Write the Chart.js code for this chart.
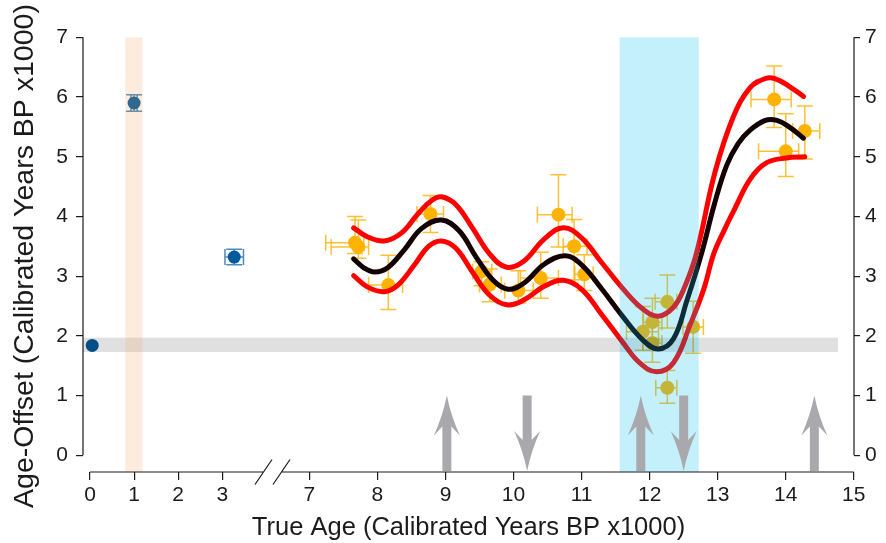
<!DOCTYPE html>
<html>
<head>
<meta charset="utf-8">
<script src="https://cdn.jsdelivr.net/npm/chart.js@4"></script>
<style>
  html, body { margin: 0; padding: 0; background: #fff; }
  #wrap { width: 886px; height: 543px; position: relative; }
</style>
</head>
<body>
<div id="wrap"><canvas id="chart"></canvas></div>
<script>
// ---- axis ticks (thousands of calibrated years BP) ----
const xTickAges = [0, 1, 2, 3, 7, 8, 9, 10, 11, 12, 13, 14, 15];
const yTickValues = [0, 1, 2, 3, 4, 5, 6, 7];
const xTitle = 'True Age (Calibrated Years BP x1000)';
const yTitle = 'Age-Offset (Calibrated Years BP x1000)';

// ---- young samples (blue) ----
const blueAge      = [0.05, 1.0, 3.27];
const blueOffset   = [1.84, 5.90, 3.32];
const blueAgeErr   = [0, 0.07, 0.21];
const blueOffErr   = [0, 0.14, 0.13];

// ---- dated samples (orange), asymmetric errors ----
const sampleAge    = [7.67, 7.72, 8.16, 8.78, 9.53, 9.65, 10.07, 10.40, 10.66, 10.89, 11.04, 11.90, 12.04, 12.04, 12.26, 12.26, 12.64, 13.83, 14.00, 14.28];
const sampleOffset = [3.56, 3.49, 2.85, 4.04, 3.08, 2.86, 2.76, 2.97, 4.03, 3.50, 3.03, 2.07, 2.23, 1.88, 2.57, 1.13, 2.15, 5.96, 5.09, 5.43];
const ageErrLo     = [0.43, 0.40, 0.29, 0.20, 0.13, 0.15, 0.20, 0.30, 0.31, 0.16, 0.14, 0.24, 0.13, 0.14, 0.18, 0.17, 0.15, 0.34, 0.40, 0.18];
const ageErrHi     = [0.13, 0.15, 0.21, 0.19, 0.15, 0.17, 0.22, 0.26, 0.20, 0.19, 0.13, 0.23, 0.14, 0.14, 0.14, 0.14, 0.15, 0.25, 0.19, 0.22];
const offErrLo     = [0.18, 0.19, 0.41, 0.31, 0.24, 0.29, 0.21, 0.34, 0.54, 0.56, 0.27, 0.31, 0.30, 0.32, 0.44, 0.26, 0.44, 0.47, 0.42, 0.47];
const offErrHi     = [0.44, 0.45, 0.50, 0.31, 0.16, 0.26, 0.33, 0.43, 0.67, 0.45, 0.33, 0.42, 0.40, 0.30, 0.45, 0.29, 0.43, 0.56, 0.63, 0.42];

// ---- fitted offset curve and its envelope ----
const medianAge = [7.65, 7.8, 7.96, 8.15, 8.4, 8.65, 8.94, 9.2, 9.45, 9.7, 9.92, 10.15, 10.45, 10.76, 11.0, 11.3, 11.6, 11.9, 12.13, 12.35, 12.55, 12.76, 12.95, 13.13, 13.3, 13.48, 13.7, 13.87, 14.05, 14.26];
const medianOff = [3.29, 3.14, 3.07, 3.14, 3.45, 3.80, 3.94, 3.76, 3.32, 2.93, 2.78, 2.88, 3.20, 3.34, 3.19, 2.78, 2.33, 1.93, 1.78, 1.95, 2.60, 3.37, 4.20, 4.85, 5.22, 5.45, 5.61, 5.61, 5.50, 5.31];
const upperAge  = [7.65, 7.85, 8.1, 8.35, 8.6, 8.8, 8.94, 9.15, 9.4, 9.65, 9.9, 10.15, 10.45, 10.73, 11.0, 11.3, 11.6, 11.9, 12.13, 12.35, 12.5, 12.68, 12.96, 13.23, 13.48, 13.70, 13.84, 14.05, 14.26];
const upperOff  = [3.81, 3.66, 3.59, 3.72, 4.05, 4.27, 4.33, 4.20, 3.80, 3.37, 3.15, 3.25, 3.62, 3.81, 3.64, 3.22, 2.80, 2.45, 2.33, 2.48, 2.78, 3.35, 4.74, 5.67, 6.16, 6.31, 6.31, 6.18, 6.01];
const lowerAge  = [7.65, 7.85, 8.1, 8.3, 8.55, 8.75, 8.94, 9.15, 9.4, 9.65, 9.9, 10.15, 10.45, 10.73, 11.0, 11.3, 11.6, 11.85, 12.1, 12.35, 12.6, 12.8, 12.94, 13.1, 13.23, 13.48, 13.72, 14.01, 14.28];
const lowerOff  = [3.01, 2.82, 2.74, 2.85, 3.20, 3.50, 3.59, 3.47, 3.06, 2.68, 2.52, 2.60, 2.83, 2.93, 2.78, 2.35, 1.90, 1.55, 1.40, 1.55, 2.20, 2.80, 3.37, 3.78, 4.08, 4.63, 4.90, 4.98, 5.00];

// ---- shaded intervals and event arrows ----
const peachBandAge = [0.8, 1.19];
const cyanBandAge  = [11.56, 12.72];
const grayBandOff  = [1.73, 1.97];
const grayBandEnd  = 14.77;
const arrowAge = [9.02, 10.2, 11.87, 12.5, 14.42];
const arrowDir = ['up', 'down', 'up', 'down', 'up'];

// broken x axis: 0-4 ka squeezed on the left, 7-15 ka wider on the right
const LEFT_K = 44.1, RIGHT_K = 68.05, RIGHT_START = 219.4;
const BREAK_U = [173, 192];
const toU = age => age < 5 ? age * LEFT_K : RIGHT_START + (age - 7) * RIGHT_K;

const FONT = 'Liberation Sans, Arial, Helvetica, sans-serif';
const INK = '#1c1a1b';

const pts = (xs, ys) => xs.map((a, i) => ({ x: toU(a), y: ys[i] }));

const curve = (xs, ys, color) => ({
  data: pts(xs, ys),
  showLine: true,
  borderColor: color,
  borderWidth: 5,
  borderCapStyle: 'round',
  borderJoinStyle: 'round',
  tension: 0.4,
  pointRadius: 0,
  clip: false
});

const BLUE_IDX = 3, ORANGE_IDX = 4;

function errorBars(ctx, x, y, ages, offs, aLo, aHi, oLo, oHi, color) {
  ctx.save();
  ctx.strokeStyle = color;
  ctx.lineWidth = 1.5;
  const cap = 8;
  ages.forEach((a, i) => {
    const cx = x.getPixelForValue(toU(a)), cy = y.getPixelForValue(offs[i]);
    if (aLo[i] || aHi[i]) {
      const l = x.getPixelForValue(toU(a - aLo[i])), r = x.getPixelForValue(toU(a + aHi[i]));
      ctx.beginPath();
      ctx.moveTo(l, cy); ctx.lineTo(r, cy);
      ctx.moveTo(l, cy - cap); ctx.lineTo(l, cy + cap);
      ctx.moveTo(r, cy - cap); ctx.lineTo(r, cy + cap);
      ctx.stroke();
    }
    if (oLo[i] || oHi[i]) {
      const t = y.getPixelForValue(offs[i] + oHi[i]), b = y.getPixelForValue(offs[i] - oLo[i]);
      ctx.beginPath();
      ctx.moveTo(cx, t); ctx.lineTo(cx, b);
      ctx.moveTo(cx - cap, t); ctx.lineTo(cx + cap, t);
      ctx.moveTo(cx - cap, b); ctx.lineTo(cx + cap, b);
      ctx.stroke();
    }
  });
  ctx.restore();
}

function arrow(ctx, cx, yTop, yBot, dir) {
  // barbed arrow head, shaft 9px wide
  const s = dir === 'up' ? 1 : -1;
  const tip = dir === 'up' ? yTop : yBot;
  const base = dir === 'up' ? yBot : yTop;
  ctx.beginPath();
  ctx.moveTo(cx, tip);
  ctx.quadraticCurveTo(cx - 4, tip + s * 20, cx - 13, tip + s * 40);
  ctx.lineTo(cx - 4.5, tip + s * 31);
  ctx.lineTo(cx - 4.5, base);
  ctx.lineTo(cx + 4.5, base);
  ctx.lineTo(cx + 4.5, tip + s * 31);
  ctx.lineTo(cx + 13, tip + s * 40);
  ctx.quadraticCurveTo(cx + 4, tip + s * 20, cx, tip);
  ctx.closePath();
  ctx.fill();
}

const decor = {
  id: 'decor',
  beforeDatasetDraw(chart, args) {
    const { ctx, scales: { x, y } } = chart;
    if (args.index === BLUE_IDX) {
      errorBars(ctx, x, y, blueAge, blueOffset, blueAgeErr, blueAgeErr, blueOffErr, blueOffErr, 'rgba(0,90,160,0.7)');
    }
    if (args.index === ORANGE_IDX) {
      errorBars(ctx, x, y, sampleAge, sampleOffset, ageErrLo, ageErrHi, offErrLo, offErrHi, 'rgba(255,176,0,0.8)');
    }
  },
  afterDatasetsDraw(chart) {
    const { ctx, chartArea: ca, scales: { x, y } } = chart;
    const px = a => x.getPixelForValue(toU(a));
    const y0 = y.getPixelForValue(0), y7 = y.getPixelForValue(7);
    ctx.save();

    // translucent bands over the data
    ctx.fillStyle = 'rgba(0,0,0,0.12)';
    const gt = y.getPixelForValue(grayBandOff[1]), gb = y.getPixelForValue(grayBandOff[0]);
    ctx.fillRect(ca.left, gt, px(grayBandEnd) - ca.left, gb - gt);

    ctx.fillStyle = 'rgba(245,160,90,0.2)';
    ctx.fillRect(px(peachBandAge[0]), y7, px(peachBandAge[1]) - px(peachBandAge[0]), ca.bottom - y7);

    ctx.fillStyle = 'rgba(0,190,237,0.23)';
    ctx.fillRect(px(cyanBandAge[0]), y7, px(cyanBandAge[1]) - px(cyanBandAge[0]), ca.bottom - y7);

    // event arrows
    ctx.fillStyle = '#a9a9ad';
    const aTop = y.getPixelForValue(1.0);
    arrowAge.forEach((a, i) => arrow(ctx, px(a), aTop, ca.bottom - 1, arrowDir[i]));

    // axis lines: y axes only span 0-7, x axis has a break
    ctx.strokeStyle = INK;
    ctx.lineWidth = 1.2;
    ctx.beginPath();
    ctx.moveTo(ca.left, y0); ctx.lineTo(ca.left, y7);
    ctx.moveTo(ca.right, y0); ctx.lineTo(ca.right, y7);
    const xb = ca.bottom;
    const b0 = x.getPixelForValue(BREAK_U[0]), b1 = x.getPixelForValue(BREAK_U[1]);
    ctx.moveTo(px(0), xb); ctx.lineTo(b0, xb);
    ctx.moveTo(b1, xb); ctx.lineTo(px(15), xb);
    [b0 + 0.5, b1 - 0.5].forEach(c => {
      ctx.moveTo(c - 8.5, xb + 12.5); ctx.lineTo(c + 8.5, xb - 12.5);
    });
    ctx.stroke();

    // y title sits a little below the plot's middle, so it is placed by hand
    ctx.translate(25, 256);
    ctx.rotate(-Math.PI / 2);
    ctx.fillStyle = INK;
    ctx.font = '28.5px ' + FONT;
    ctx.textAlign = 'center';
    ctx.textBaseline = 'middle';
    ctx.fillText(yTitle, 0, 0);
    ctx.restore();
  }
};

const yTicksCfg = {
  afterBuildTicks: s => { s.ticks = yTickValues.map(v => ({ value: v })); }
};

new Chart(document.getElementById('chart'), {
  type: 'scatter',
  data: {
    datasets: [
      curve(upperAge, upperOff, '#ff0000'),
      curve(lowerAge, lowerOff, '#ff0000'),
      curve(medianAge, medianOff, '#140202'),
      { data: pts(blueAge, blueOffset), pointRadius: 6.5, backgroundColor: '#005a9c', borderWidth: 0 },
      { data: pts(sampleAge, sampleOffset), pointRadius: 7, backgroundColor: '#ffb200', borderWidth: 0 }
    ]
  },
  options: {
    responsive: true,
    maintainAspectRatio: false,
    animation: false,
    layout: { padding: { top: 12, left: 0, right: 0, bottom: 0 } },
    plugins: { legend: { display: false }, tooltip: { enabled: false } },
    scales: {
      x: {
        type: 'linear',
        min: -7,
        max: 764,
        afterBuildTicks: s => { s.ticks = xTickAges.map(a => ({ value: toU(a) })); },
        afterFit: s => { s.height = 71; },
        border: { display: false },
        grid: { drawOnChartArea: false, drawTicks: true, tickLength: 8, color: INK, lineWidth: 1.2 },
        ticks: {
          autoSkip: false, maxRotation: 0, padding: 3,
          color: INK, font: { family: FONT, size: 21 },
          callback: (v, i) => String(xTickAges[i])
        },
        title: {
          display: true, text: xTitle,
          color: INK, font: { family: FONT, size: 25.5 }, padding: { top: 0, bottom: 0 }
        }
      },
      y: {
        position: 'left',
        min: -0.28,
        max: 7.28,
        ...yTicksCfg,
        afterFit: s => { s.width = 83; },
        border: { display: false },
        grid: { drawOnChartArea: false, drawTicks: true, tickLength: 7, color: INK, lineWidth: 1.2 },
        ticks: { padding: 8, color: INK, font: { family: FONT, size: 21 } }
      },
      y2: {
        position: 'right',
        min: -0.28,
        max: 7.28,
        ...yTicksCfg,
        afterFit: s => { s.width = 32; },
        border: { display: false },
        grid: { drawOnChartArea: false, drawTicks: true, tickLength: 6, color: INK, lineWidth: 1.2 },
        ticks: { padding: 5, color: INK, font: { family: FONT, size: 21 } }
      }
    }
  },
  plugins: [decor]
});
</script>
</body>
</html>
